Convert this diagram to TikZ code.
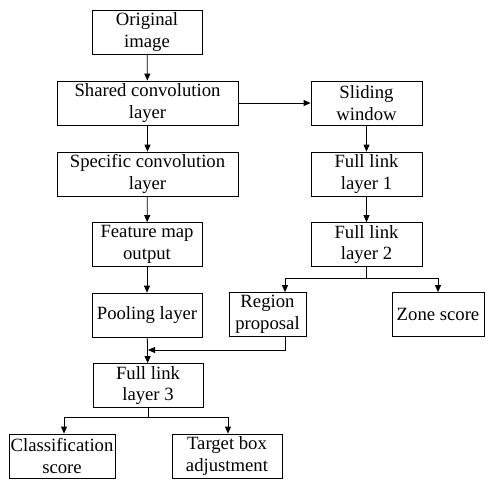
\documentclass[tikz,border=0pt]{standalone}
\usepackage{fontspec}
\setmainfont{Liberation Serif}
\usepackage{tikz}
\usetikzlibrary{arrows.meta,positioning,calc}

\begin{document}
\begin{tikzpicture}[
    x=1pt, y=-1pt,
    block/.style={draw, line width=0.8pt, align=center, inner sep=1pt,
        minimum height=44pt, font=\fontsize{18.7}{21.5}\selectfont},
    arr/.style={draw, line width=0.8pt, -{Triangle[length=7pt,width=6pt]}},
    link/.style={draw, line width=0.8pt},
]
\useasboundingbox (0,0) rectangle (499,480);
% left column
\node[block, minimum width=110pt] (orig) at (147,32) {Original\\image};
\node[block, minimum width=181pt] (shared) at (147.5,103) {Shared convolution\\layer};
\node[block, minimum width=181pt] (spec) at (147.5,174) {Specific convolution\\layer};
\node[block, minimum width=110pt] (feat) at (147,244.5) {Feature map\\output};
\node[block, minimum width=110pt] (pool) at (147,315) {Pooling layer};
% right column
\node[block, minimum width=111pt] (slide) at (366.5,103) {Sliding\\window};
\node[block, minimum width=111pt] (fl1) at (366.5,174) {Full link\\layer 1};
\node[block, minimum width=111pt] (fl2) at (366.5,244.5) {Full link\\layer 2};
\node[block, minimum width=77pt] (region) at (267.5,314.5) {Region\\proposal};
\node[block, minimum width=92pt] (zone) at (438,314.5) {Zone score};
% bottom
\node[block, minimum width=110pt] (fl3) at (148,385.5) {Full link\\layer 3};
\node[block, minimum width=106pt] (cls) at (62,456) {Classification\\score};
\node[block, minimum width=110pt] (tbox) at (227,456) {Target box\\adjustment};

\coordinate (split2) at (366.5,278);
\coordinate (split3) at (148,417);
\coordinate (merge) at (148,350);

\draw[arr] (orig) -- (shared);
\draw[arr] (shared) -- (spec);
\draw[arr] (spec) -- (feat);
\draw[arr] (feat) -- (pool);
\draw[arr] (pool) -- (fl3);
\draw[arr] (shared) -- (slide);
\draw[arr] (slide) -- (fl1);
\draw[arr] (fl1) -- (fl2);
\draw[link] (fl2) -- (split2);
\draw[arr] (split2) -| ([xshift=17.5pt]region.north);
\draw[arr] (split2) -| (zone.north);
\draw[arr] ([xshift=17.5pt]region.south) |- (merge);
\draw[link] (fl3) -- (split3);
\draw[arr] (split3) -| ([xshift=2pt]cls.north);
\draw[arr] (split3) -| ([xshift=1pt]tbox.north);
\end{tikzpicture}
\end{document}
